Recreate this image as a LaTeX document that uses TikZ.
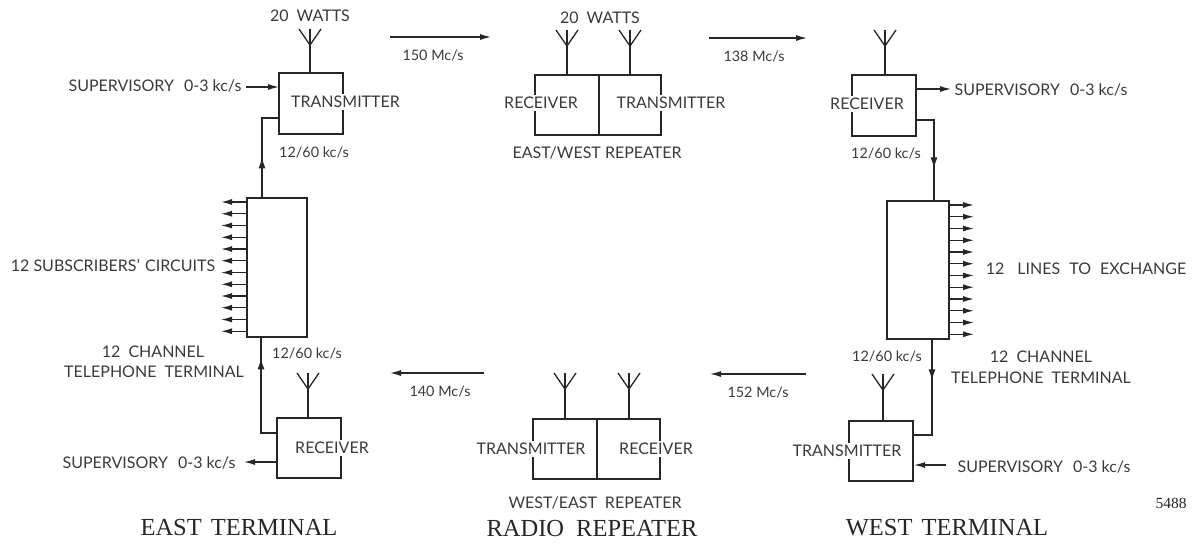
\documentclass[tikz,border=0pt]{standalone}
\usepackage{fontspec}
\setmainfont{Lato}
\newfontfamily\titlefont{Liberation Serif}
\usetikzlibrary{calc,arrows.meta,decorations.markings}
\definecolor{ink}{HTML}{262626}
\definecolor{txt}{HTML}{3A3A3A}
\tikzset{
  block/.style={draw=ink,line width=1.6pt,fill=none,rectangle,inner sep=0pt,outer sep=0pt},
  lab/.style={text=txt,font=\fontsize{16}{18}\selectfont,inner sep=0pt,outer sep=0pt},
  rate/.style={lab,font=\fontsize{14.4}{18}\selectfont},
  blab/.style={lab,fill=white,inner xsep=1pt,inner ysep=2pt},
  title/.style={text=ink,font=\titlefont\fontsize{24.5}{26}\selectfont,inner sep=0pt},
  wire/.style={draw=ink,line width=1.3pt},
  tip/.style={-{Latex[length=11pt,width=6pt]}},
  midtip/.style={postaction={decorate},decoration={markings,mark=at position #1 with {\arrow{Latex[length=11pt,width=7pt]}}}}
}
\newcommand{\antenna}[3]{% name, top coordinate, block
  \coordinate (#1) at #2;
  \draw[wire] (#1 |- #3.north) -- (#1);
  \draw[wire] ($(#1)+(-11,0)$) -- ($(#1)+(0,16)$) -- ($(#1)+(11,0)$);
}
\begin{document}
\begin{tikzpicture}[x=1pt,y=-1pt]
\useasboundingbox (0,0) rectangle (1192,543);
% blocks
\node[block,minimum width=64pt,minimum height=61pt] (txE) at (311,103.5) {};
\node[block,minimum width=60pt,minimum height=139pt] (muxE) at (277,267.5) {};
\node[block,minimum width=64pt,minimum height=60pt] (rxE) at (309,448) {};
\node[block,minimum width=64pt,minimum height=60pt] (rep1a) at (567,105) {};
\node[block,minimum width=62pt,minimum height=60pt] (rep1b) at (630,105) {};
\node[block,minimum width=64pt,minimum height=60pt] (rep2a) at (565,449) {};
\node[block,minimum width=63pt,minimum height=60pt] (rep2b) at (628.5,449) {};
\node[block,minimum width=64pt,minimum height=61pt] (rxW) at (884,105.5) {};
\node[block,minimum width=62pt,minimum height=138pt] (muxW) at (918,270) {};
\node[block,minimum width=64pt,minimum height=60pt] (txW) at (881,451) {};
% antennas
\antenna{aE1}{(310,29)}{txE}
\antenna{aE2}{(308,373)}{rxE}
\antenna{aR1}{(567,30)}{rep1a}
\antenna{aR2}{(630,30)}{rep1b}
\antenna{aR3}{(565,373)}{rep2a}
\antenna{aR4}{(629,373)}{rep2b}
\antenna{aW1}{(885,30)}{rxW}
\antenna{aW2}{(883,374)}{txW}
% block links
\draw[wire,midtip=0.42] ($(muxE.north west)+(15,0)$) |- ($(txE.north west)+(0,45)$);
\draw[wire,midtip=0.81] ($(rxE.north west)+(0,15)$) -| ($(muxE.south west)+(14,0)$);
\draw[wire,midtip=0.67] ($(rxW.north east)+(0,45)$) -| ($(muxW.north west)+(47,0)$);
\draw[wire,midtip=0.36] ($(muxW.south west)+(45,0)$) |- ($(txW.north east)+(0,14)$);
% multi-line arrows
\foreach \i in {0,...,11} {
  \coordinate (eL\i) at ($(muxE.north west)+(-26,4+\i*11.75)$);
  \draw[wire,tip] ($(muxE.north west)+(0,4+\i*11.75)$) -- (eL\i);
  \coordinate (wR\i) at ($(muxW.north east)+(25,4+\i*11.75)$);
  \draw[wire,tip] ($(muxW.north east)+(0,4+\i*11.75)$) -- (wR\i);
}
% supervisory
\coordinate (supTE) at (246,87);
\draw[wire,tip] (supTE) -- (supTE -| txE.west);
\coordinate (supRE) at (244,462);
\draw[wire,tip] (supRE -| rxE.west) -- (supRE);
\coordinate (supRW) at (951,89);
\draw[wire,tip] (supRW -| rxW.east) -- (supRW);
\coordinate (supTW) at (914,465);
\coordinate (supTWs) at (946,465);
\draw[wire,tip] (supTWs) -- (supTW);
% radio path arrows
\coordinate (p1a) at (390,37); \coordinate (p1b) at (491,37);
\draw[wire,tip] (p1a) -- (p1b);
\coordinate (p2a) at (709,38); \coordinate (p2b) at (807,38);
\draw[wire,tip] (p2a) -- (p2b);
\coordinate (p3a) at (484,373); \coordinate (p3b) at (390,373);
\draw[wire,tip] (p3a) -- (p3b);
\coordinate (p4a) at (806,374); \coordinate (p4b) at (710,374);
\draw[wire,tip] (p4a) -- (p4b);
% block labels
\node[blab] (l1) at (345.5,102) {TRANSMITTER};
\node[blab] (l2) at (332,448) {RECEIVER};
\node[blab] (l3) at (541,103) {RECEIVER};
\node[blab] (l4) at (671,103) {TRANSMITTER};
\node[blab] (l5) at (531,449) {TRANSMITTER};
\node[blab] (l6) at (656,449) {RECEIVER};
\node[blab] (l7) at (867,104) {RECEIVER};
\node[blab] (l8) at (847,451) {TRANSMITTER};
% other labels
\node[lab] (t1) at (310,16) {20\enspace WATTS};
\node[lab] (t2) at (600,18) {20\enspace WATTS};
\node[lab] (t3) at (155,86) {SUPERVISORY\enspace\hspace{2pt}0-3 kc/s};
\node[lab] (t4) at (1041,90) {SUPERVISORY\enspace\hspace{2pt}0-3 kc/s};
\node[lab] (t5) at (149,463) {SUPERVISORY\enspace\hspace{2pt}0-3 kc/s};
\node[lab] (t6) at (1044,467) {SUPERVISORY\enspace\hspace{2pt}0-3 kc/s};
\node[rate] (t7) at (433,56) {150 Mc/s};
\node[rate] (t8) at (754,57) {138 Mc/s};
\node[rate] (t9) at (440,392) {140 Mc/s};
\node[rate] (t10) at (758,393) {152 Mc/s};
\node[rate] (t11) at (314,153) {12/60 kc/s};
\node[rate] (t12) at (886,154) {12/60 kc/s};
\node[rate] (t13) at (307,354) {12/60 kc/s};
\node[rate] (t14) at (887,357) {12/60 kc/s};
\node[lab] (t15) at (597,153) {EAST/WEST REPEATER};
\node[lab] (t16) at (595,503) {WEST/EAST\enspace REPEATER};
\node[lab] (t17) at (113,265) {12 SUBSCRIBERS' \hspace{1pt}CIRCUITS};
\node[lab] (t18) at (1086,269) {12\hspace{9pt} LINES\hspace{5pt} TO\hspace{5pt} EXCHANGE};
\node[lab] (t19) at (153,352) {12\hspace{4pt} CHANNEL};
\node[lab] (t20) at (154,372) {TELEPHONE\enspace TERMINAL};
\node[lab] (t21) at (1041,357) {12\hspace{4pt} CHANNEL};
\node[lab] (t22) at (1041,378) {TELEPHONE\enspace TERMINAL};
\node[title] (h1) at (239,528) {EAST\hspace{3pt} TERMINAL};
\node[title] (h2) at (592,529) {RADIO\hspace{6pt} REPEATER};
\node[title] (h3) at (947,528) {WEST\hspace{3pt} TERMINAL};
\node[text=ink,font=\titlefont\fontsize{15.5}{17}\selectfont,inner sep=0pt] (n) at (1171,503) {5488};
\end{tikzpicture}
\end{document}
